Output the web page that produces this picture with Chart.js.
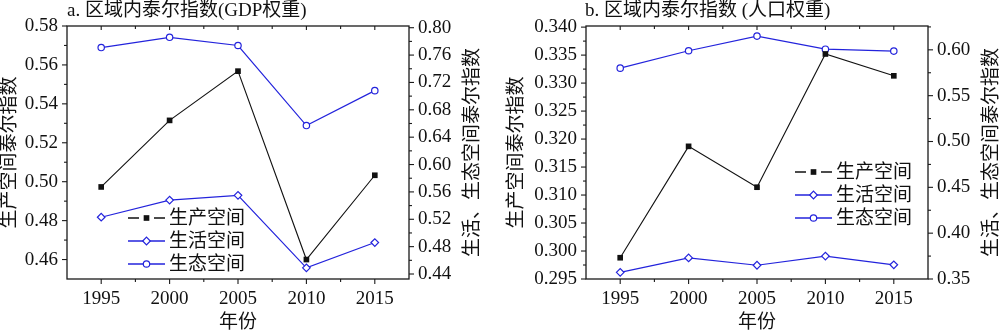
<!DOCTYPE html>
<html>
<head>
<meta charset="UTF-8">
<title>区域内泰尔指数</title>
<script src="https://cdn.jsdelivr.net/npm/chart.js"></script>
<style>
body{margin:0;background:#fff;}
.wrap{display:flex;width:1000px;height:333px;}
canvas{display:block;}
</style>
</head>
<body>
<div class="wrap">
<canvas id="chartA" width="500" height="333"></canvas>
<canvas id="chartB" width="500" height="333"></canvas>
</div>
<script>
var years = [1995, 2000, 2005, 2010, 2015];
var seriesNames = ['生产空间', '生活空间', '生态空间'];

// a. GDP weight
var gdpProduction = [0.4973, 0.5315, 0.5568, 0.4600, 0.5033];
var gdpLiving = [0.523, 0.548, 0.555, 0.449, 0.486];
var gdpEcology = [0.771, 0.786, 0.774, 0.657, 0.708];

// b. population weight
var popProduction = [0.2988, 0.3187, 0.3114, 0.3352, 0.3313];
var popLiving = [0.3573, 0.3730, 0.3650, 0.3750, 0.3655];
var popEcology = [0.5800, 0.5990, 0.6150, 0.6007, 0.5986];

// ticks
var xMajor = [1995, 2000, 2005, 2010, 2015];
var xMinor = [1997.5, 2002.5, 2007.5, 2012.5];
var gdpLeftMajor = [0.46, 0.48, 0.50, 0.52, 0.54, 0.56, 0.58];
var gdpLeftMinor = [0.47, 0.49, 0.51, 0.53, 0.55, 0.57];
var gdpRightMajor = [0.44, 0.48, 0.52, 0.56, 0.60, 0.64, 0.68, 0.72, 0.76, 0.80];
var gdpRightMinor = [0.46, 0.50, 0.54, 0.58, 0.62, 0.66, 0.70, 0.74, 0.78];
var popLeftMajor = [0.295, 0.300, 0.305, 0.310, 0.315, 0.320, 0.325, 0.330, 0.335, 0.340];
var popLeftMinor = [0.2975, 0.3025, 0.3075, 0.3125, 0.3175, 0.3225, 0.3275, 0.3325, 0.3375];
var popRightMajor = [0.35, 0.40, 0.45, 0.50, 0.55, 0.60];
var popRightMinor = [0.375, 0.425, 0.475, 0.525, 0.575, 0.625];

var FONT = '"Liberation Serif", "Times New Roman", "Noto Sans CJK SC", serif';
var BLUE = '#2323dc';

function pts(vals){
    return years.map(function(y, i){ return {x: y, y: vals[i]}; });
}

function drawMarker(ctx, style, x, y, r){
    ctx.beginPath();
    if(style == 'rect'){
        var s = r * Math.SQRT1_2;
        ctx.rect(x - s, y - s, 2*s, 2*s);
        ctx.fill();
        return;
    }
    if(style == 'rectRot'){
        ctx.moveTo(x, y - r); ctx.lineTo(x + r, y); ctx.lineTo(x, y + r); ctx.lineTo(x - r, y); ctx.closePath();
    } else {
        ctx.arc(x, y, r, 0, Math.PI*2);
    }
    ctx.fill();
    ctx.stroke();
}

var framePlugin = {
    id: 'frame',
    beforeDatasetsDraw: function(chart){
        var o = chart.options.plugins.frame;
        var ctx = chart.ctx, a = chart.chartArea;
        var xs = chart.scales.x, yl = chart.scales.yL, yr = chart.scales.yR;
        function tick(x1, y1, x2, y2){
            ctx.beginPath(); ctx.moveTo(x1, y1); ctx.lineTo(x2, y2); ctx.stroke();
        }
        ctx.save();
        ctx.strokeStyle = '#1a1a1a';
        ctx.lineWidth = 1.3;
        ctx.strokeRect(a.left, a.top, a.right - a.left, a.bottom - a.top);
        ctx.lineWidth = 1.1;
        xMajor.forEach(function(v){
            var x = xs.getPixelForValue(v);
            tick(x, a.bottom, x, a.bottom + 5);
            tick(x, a.top, x, a.top + 4);
        });
        xMinor.forEach(function(v){
            var x = xs.getPixelForValue(v);
            tick(x, a.bottom, x, a.bottom + 3);
            tick(x, a.top, x, a.top + 3);
        });
        o.leftMajor.forEach(function(v){ var y = yl.getPixelForValue(v); tick(a.left, y, a.left - 5, y); });
        o.leftMinor.forEach(function(v){ var y = yl.getPixelForValue(v); tick(a.left, y, a.left - 3, y); });
        o.rightMajor.forEach(function(v){ var y = yr.getPixelForValue(v); if(y >= a.top - 1) tick(a.right, y, a.right + 5, y); });
        o.rightMinor.forEach(function(v){ var y = yr.getPixelForValue(v); if(y >= a.top - 1) tick(a.right, y, a.right + 3, y); });
        ctx.restore();
    },
    afterDraw: function(chart){
        var o = chart.options.plugins.frame;
        var ctx = chart.ctx, a = chart.chartArea;
        var midY = (a.top + a.bottom) / 2;
        ctx.save();
        ctx.fillStyle = '#111';
        // title
        ctx.font = '19px ' + FONT;
        ctx.textAlign = 'left';
        ctx.textBaseline = 'middle';
        ctx.fillText(o.title, a.left + o.titleX, 11);
        // axis titles
        ctx.textAlign = 'center';
        ctx.fillText('年份', (a.left + a.right) / 2, a.bottom + 44);
        ctx.save();
        ctx.translate(o.leftTitleX, midY);
        ctx.rotate(-Math.PI / 2);
        ctx.fillText('生产空间泰尔指数', 0, 0);
        ctx.restore();
        ctx.save();
        ctx.translate(a.right + 64, midY);
        ctx.rotate(-Math.PI / 2);
        ctx.fillText('生活、生态空间泰尔指数', 0, 0);
        ctx.restore();
        // legend
        var lx = a.left + o.legendX;
        chart.data.datasets.forEach(function(ds, i){
            var y = a.top + o.legendY + i * 23;
            ctx.strokeStyle = ds.borderColor;
            ctx.lineWidth = 1.3;
            if(ds.pointStyle == 'rect'){
                ctx.beginPath();
                ctx.moveTo(lx, y); ctx.lineTo(lx + 11, y);
                ctx.moveTo(lx + 26, y); ctx.lineTo(lx + 37, y);
                ctx.stroke();
            } else {
                ctx.beginPath(); ctx.moveTo(lx, y); ctx.lineTo(lx + 37, y); ctx.stroke();
            }
            ctx.fillStyle = ds.pointBackgroundColor;
            ctx.lineWidth = 1.2;
            drawMarker(ctx, ds.pointStyle, lx + 18.5, y, ds.pointRadius);
            ctx.fillStyle = '#111';
            ctx.textAlign = 'left';
            ctx.fillText(ds.label, lx + 41, y + 1);
        });
        ctx.restore();
    }
};

function makeChart(id, cfg){
    var ctx = document.getElementById(id).getContext('2d');
    var tickFont = {family: FONT, size: 19};
    return new Chart(ctx, {
        type: 'line',
        data: {
            datasets: [{
                label: seriesNames[0],
                data: pts(cfg.production),
                yAxisID: 'yL',
                borderColor: '#111',
                borderWidth: 1.1,
                pointStyle: 'rect',
                pointRadius: 4,
                pointBackgroundColor: '#111',
                pointBorderColor: '#111',
                pointBorderWidth: 0,
                tension: 0
            }, {
                label: seriesNames[1],
                data: pts(cfg.living),
                yAxisID: 'yR',
                borderColor: BLUE,
                borderWidth: 1.2,
                pointStyle: 'rectRot',
                pointRadius: 3.8,
                pointBackgroundColor: '#fff',
                pointBorderColor: BLUE,
                pointBorderWidth: 1.2,
                tension: 0
            }, {
                label: seriesNames[2],
                data: pts(cfg.ecology),
                yAxisID: 'yR',
                borderColor: BLUE,
                borderWidth: 1.2,
                pointStyle: 'circle',
                pointRadius: 3.2,
                pointBackgroundColor: '#fff',
                pointBorderColor: BLUE,
                pointBorderWidth: 1.2,
                tension: 0
            }]
        },
        options: {
            responsive: false,
            animation: false,
            events: [],
            layout: {padding: {top: 26, left: 0, right: 0, bottom: 0}},
            scales: {
                x: {
                    type: 'linear', min: 1992.5, max: 2017.5,
                    afterBuildTicks: function(s){ s.ticks = xMajor.map(function(v){ return {value: v}; }); },
                    afterFit: function(s){ s.height = 54; },
                    ticks: {font: tickFont, color: '#111', padding: 9, callback: function(v){ return String(v); }},
                    grid: {display: false, drawTicks: false},
                    border: {display: false}
                },
                yL: {
                    position: 'left', min: cfg.leftMin, max: cfg.leftMax,
                    afterBuildTicks: function(s){ s.ticks = cfg.leftMajor.map(function(v){ return {value: v}; }); },
                    afterFit: function(s){ s.width = cfg.leftWidth; },
                    ticks: {font: tickFont, color: '#111', padding: 9, callback: function(v){ return v.toFixed(cfg.leftDec); }},
                    grid: {display: false, drawTicks: false},
                    border: {display: false}
                },
                yR: {
                    position: 'right', min: cfg.rightMin, max: cfg.rightMax,
                    afterBuildTicks: function(s){ s.ticks = cfg.rightMajor.map(function(v){ return {value: v}; }); },
                    afterFit: function(s){ s.width = cfg.rightWidth; },
                    ticks: {font: tickFont, color: '#111', padding: 9, callback: function(v){ return v.toFixed(2); }},
                    grid: {display: false, drawTicks: false},
                    border: {display: false}
                }
            },
            plugins: {
                legend: {display: false},
                tooltip: {enabled: false},
                frame: {
                    title: cfg.title, titleX: cfg.titleX,
                    leftTitleX: cfg.leftTitleX,
                    legendX: cfg.legendX, legendY: cfg.legendY,
                    leftMajor: cfg.leftMajor, leftMinor: cfg.leftMinor,
                    rightMajor: cfg.rightMajor, rightMinor: cfg.rightMinor
                }
            }
        },
        plugins: [framePlugin]
    });
}

makeChart('chartA', {
    title: 'a. 区域内泰尔指数(GDP权重)', titleX: 0,
    production: gdpProduction, living: gdpLiving, ecology: gdpEcology,
    leftMin: 0.45, leftMax: 0.58, leftDec: 2, leftMajor: gdpLeftMajor, leftMinor: gdpLeftMinor,
    rightMin: 0.4327, rightMax: 0.8025, rightMajor: gdpRightMajor, rightMinor: gdpRightMinor,
    leftWidth: 67, rightWidth: 91, leftTitleX: 10,
    legendX: 61, legendY: 192
});

makeChart('chartB', {
    title: 'b. 区域内泰尔指数 (人口权重)', titleX: -1,
    production: popProduction, living: popLiving, ecology: popEcology,
    leftMin: 0.295, leftMax: 0.3402, leftDec: 3, leftMajor: popLeftMajor, leftMinor: popLeftMinor,
    rightMin: 0.35, rightMax: 0.626, rightMajor: popRightMajor, rightMinor: popRightMinor,
    leftWidth: 86, rightWidth: 72, leftTitleX: 17,
    legendX: 209, legendY: 146
});
</script>
</body>
</html>
